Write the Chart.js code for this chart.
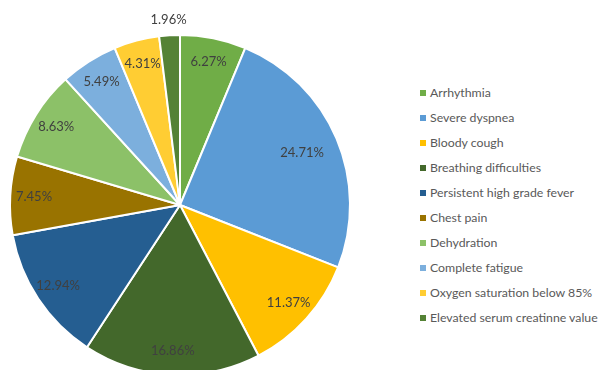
<!DOCTYPE html>
<html>
<head>
<meta charset="utf-8">
<script src="https://cdn.jsdelivr.net/npm/chart.js@4/dist/chart.umd.min.js"></script>
<style>
  html, body { margin: 0; padding: 0; background: #fff; overflow: hidden; }
  body { width: 598px; height: 370px; position: relative; font-family: Lato, "Open Sans", sans-serif; }
  #chart-wrap { position: absolute; left: 0; top: 0; width: 360px; height: 380px; }
  #legend { position: absolute; left: 420px; top: 86px; margin: 0; padding: 0; list-style: none; }
  #legend li { height: 25px; font-size: 12.3px; color: #595959; white-space: nowrap; line-height: 14px; }
  #legend span.box { display: inline-block; width: 6px; height: 6px; margin-right: 4px; vertical-align: 1px; }
</style>
</head>
<body>
<div id="chart-wrap"><canvas id="chart-canvas"></canvas></div>
<ul id="legend"></ul>
<script>
const symptoms = [
  "Arrhythmia",
  "Severe dyspnea",
  "Bloody cough",
  "Breathing difficulties",
  "Persistent high grade fever",
  "Chest pain",
  "Dehydration",
  "Complete fatigue",
  "Oxygen saturation below 85%",
  "Elevated serum creatinne value"
];
const shares = [6.27, 24.71, 11.37, 16.86, 12.94, 7.45, 8.63, 5.49, 4.31, 1.96];
const sliceColors = ["#70AD47", "#5B9BD5", "#FFC000", "#43682B", "#255E91",
                     "#997300", "#8CC168", "#7CAFDD", "#FFCD33", "#548235"];

// percentage labels on the slices (no datalabels plugin available offline)
const sliceLabels = {
  id: "sliceLabels",
  afterDatasetsDraw(chart) {
    const ctx = chart.ctx;
    const meta = chart.getDatasetMeta(0);
    ctx.save();
    ctx.font = "13px Lato, 'Open Sans', sans-serif";
    ctx.fillStyle = "#404040";
    ctx.textAlign = "center";
    ctx.textBaseline = "middle";
    meta.data.forEach((arc, i) => {
      const p = arc.getProps(["x", "y", "startAngle", "endAngle", "outerRadius"], true);
      const mid = (p.startAngle + p.endAngle) / 2;
      let r = p.outerRadius * 0.86;
      if (shares[i] < 3) r = p.outerRadius + 16;
      else if (shares[i] > 20) r = p.outerRadius * 0.78;
      ctx.fillText(shares[i].toFixed(2) + "%", p.x + Math.cos(mid) * r, p.y + Math.sin(mid) * r);
    });
    ctx.restore();
  }
};

const ctx = document.getElementById("chart-canvas").getContext("2d");
new Chart(ctx, {
  type: "pie",
  data: {
    labels: symptoms,
    datasets: [{
      data: shares,
      backgroundColor: sliceColors,
      borderColor: "#ffffff",
      borderWidth: 2
    }]
  },
  options: {
    responsive: true,
    maintainAspectRatio: false,
    animation: false,
    layout: { padding: { top: 34, left: 9, right: 9, bottom: 4 } },
    plugins: {
      legend: { display: false },
      tooltip: { enabled: false }
    }
  },
  plugins: [sliceLabels]
});

const legend = document.getElementById("legend");
symptoms.forEach((name, i) => {
  const li = document.createElement("li");
  const box = document.createElement("span");
  box.className = "box";
  box.style.background = sliceColors[i];
  li.appendChild(box);
  li.appendChild(document.createTextNode(name));
  legend.appendChild(li);
});
</script>
</body>
</html>
